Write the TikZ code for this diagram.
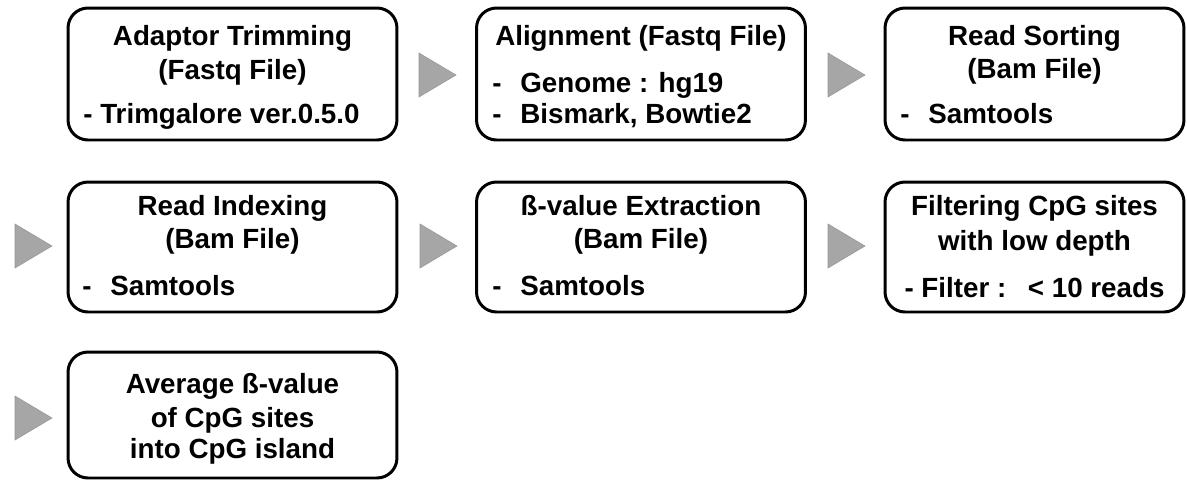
\documentclass[tikz,border=0pt]{standalone}
\usepackage{fontspec}
\setmainfont{Liberation Sans}
\definecolor{arrowgray}{HTML}{A6A6A6}
\definecolor{arrowedge}{HTML}{959595}
\newcommand{\dashitem}[1]{\makebox[0.56cm][l]{-}#1}
\tikzset{
  stage/.style={draw=black, line width=1.7pt, rounded corners=0.4cm, inner sep=0pt},
  wide/.style={minimum width=6.58cm},
  narrow/.style={minimum width=5.98cm},
  label/.style={anchor=base, inner sep=0pt, font=\fontsize{15.8}{19}\selectfont\bfseries},
  item/.style={label, anchor=base west},
  tri/.style={fill=arrowgray, draw=arrowedge, line width=0.3pt}
}
\begin{document}
\begin{tikzpicture}[x=0.02cm, y=-0.02cm]
        \useasboundingbox (0,0) rectangle (1187,481);
        %% step arrows
        \foreach \x/\y in {419/75, 828/75, 15/246, 420/246, 828/246, 15/418}
          \filldraw[tri] (\x,\y-22) -- (\x+37,\y) -- (\x,\y+22) -- cycle;
        %% first row
        \node[stage, wide, minimum height=2.64cm] (trim) at (232.5,74) {};
        \node[label] (trimA) at (232.5,45) {Adaptor Trimming};
        \node[label] (trimB) at (232.5,79) {(Fastq File)};
        \node[item] (trimC) at (83,123) {- Trimgalore ver.0.5.0};
        \node[stage, wide, minimum height=2.64cm] (align) at (641,74) {};
        \node[label] (alignA) at (641,45) {Alignment (Fastq File)};
        \node[item] (alignB) at (492,92) {\dashitem{Genome : hg19}};
        \node[item] (alignC) at (492,123) {\dashitem{Bismark, Bowtie2}};
        \node[stage, narrow, minimum height=2.64cm] (sort) at (1034.5,74) {};
        \node[label] (sortA) at (1034.5,45) {Read Sorting};
        \node[label] (sortB) at (1034.5,78) {(Bam File)};
        \node[item] (sortC) at (900,123) {\dashitem{Samtools}};
        %% second row
        \node[stage, wide, minimum height=2.6cm] (index) at (232.5,247) {};
        \node[label] (indexA) at (232.5,215) {Read Indexing};
        \node[label] (indexB) at (232.5,248) {(Bam File)};
        \node[item] (indexC) at (82,295) {\dashitem{Samtools}};
        \node[stage, wide, minimum height=2.6cm] (beta) at (641,247) {};
        \node[label] (betaA) at (641,215) {ß-value Extraction};
        \node[label] (betaB) at (641,248) {(Bam File)};
        \node[item] (betaC) at (492,295) {\dashitem{Samtools}};
        \node[stage, narrow, minimum height=2.6cm] (filter) at (1034.5,247) {};
        \node[label] (filterA) at (1034.5,215) {Filtering CpG sites};
        \node[label] (filterB) at (1034.5,250) {with low depth};
        \node[label] (filterC) at (1034.5,297) {- Filter :\enspace\ {<} 10 reads};
        %% third row
        \node[stage, wide, minimum height=2.52cm] (avg) at (232.5,415) {};
        \node[label] (avgA) at (232.5,393) {Average ß-value};
        \node[label] (avgB) at (232.5,427) {of CpG sites};
        \node[label] (avgC) at (232.5,458) {into CpG island};
    \end{tikzpicture}
\end{document}
